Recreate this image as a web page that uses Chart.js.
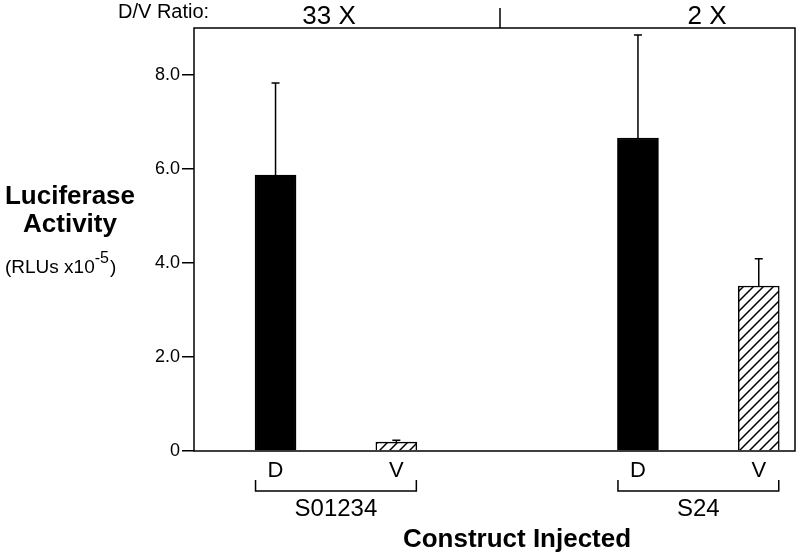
<!DOCTYPE html>
<html>
<head>
<meta charset="utf-8">
<script src="https://cdn.jsdelivr.net/npm/chart.js@4/dist/chart.umd.min.js"></script>
<style>
  html, body { margin: 0; background: #fff; }
  #wrap { width: 800px; height: 558px; }
</style>
</head>
<body>
<div id="wrap"><canvas id="luc"></canvas></div>
<script>
// data
var barLabels = ['D', 'V', 'D', 'V'];
var barPos = [1, 2, 4, 5];
var means = [5.87, 0.19, 6.66, 3.51];
var errUp = [1.96, 0.04, 2.19, 0.58];
var constructs = ['S01234', 'S24'];
var ratios = ['33 X', '2 X'];
var yTicks = [0, 2, 4, 6, 8];

var FONT = '"Liberation Sans", Arial, Helvetica, sans-serif';

// diagonal hatch for the V bars
function hatch() {
  var s = 10;
  var c = document.createElement('canvas');
  c.width = s; c.height = s;
  var g = c.getContext('2d');
  g.fillStyle = '#fff';
  g.fillRect(0, 0, s, s);
  g.strokeStyle = '#000';
  g.lineWidth = 1.5;
  g.beginPath();
  g.moveTo(0, s); g.lineTo(s, 0);
  g.moveTo(-2, 2); g.lineTo(2, -2);
  g.moveTo(s - 2, s + 2); g.lineTo(s + 2, s - 2);
  g.stroke();
  return g.createPattern(c, 'repeat');
}
var hp = hatch();

var extras = {
  id: 'extras',
  afterDraw: function (chart) {
    var ctx = chart.ctx;
    var a = chart.chartArea;
    var xs = chart.scales.x, ys = chart.scales.y;
    ctx.save();
    ctx.strokeStyle = '#000';
    ctx.fillStyle = '#000';
    ctx.lineWidth = 1.5;

    // frame
    ctx.strokeRect(a.left, a.top, a.right - a.left, a.bottom - a.top);

    // error bars (upper only)
    for (var i = 0; i < means.length; i++) {
      var x = xs.getPixelForValue(barPos[i]);
      var y0 = ys.getPixelForValue(means[i]);
      var y1 = ys.getPixelForValue(means[i] + errUp[i]);
      ctx.beginPath();
      ctx.moveTo(x, y0); ctx.lineTo(x, y1);
      ctx.moveTo(x - 4, y1); ctx.lineTo(x + 4, y1);
      ctx.stroke();
    }

    // brackets with construct names
    ctx.textAlign = 'center';
    ctx.textBaseline = 'middle';
    ctx.font = '24px ' + FONT;
    for (var k = 0; k < constructs.length; k++) {
      var l = xs.getPixelForValue(barPos[k * 2]) - 20;
      var r = xs.getPixelForValue(barPos[k * 2 + 1]) + 20;
      ctx.beginPath();
      ctx.moveTo(l, 480); ctx.lineTo(l, 491); ctx.lineTo(r, 491); ctx.lineTo(r, 480);
      ctx.stroke();
      ctx.fillText(constructs[k], (l + r) / 2, 509);
    }

    // x title
    ctx.font = 'bold 26px ' + FONT;
    ctx.fillText('Construct Injected', 517, 540);

    // y title
    ctx.fillText('Luciferase', 70, 197);
    ctx.fillText('Activity', 70, 225);
    ctx.textAlign = 'left';
    ctx.font = '19px ' + FONT;
    var t1 = '(RLUs x10';
    var w1 = ctx.measureText(t1).width;
    ctx.fillText(t1, 5, 268);
    ctx.font = '16px ' + FONT;
    var w2 = ctx.measureText('-5').width;
    ctx.fillText('-5', 5 + w1, 259);
    ctx.font = '19px ' + FONT;
    ctx.fillText(')', 5 + w1 + w2 + 1, 268);

    // D/V ratio header
    ctx.font = '20px ' + FONT;
    ctx.fillText('D/V Ratio:', 118, 12);
    ctx.textAlign = 'center';
    ctx.font = '26px ' + FONT;
    ctx.fillText(ratios[0], 329, 17);
    ctx.fillText(ratios[1], 707, 17);
    ctx.beginPath();
    ctx.moveTo(500, 8); ctx.lineTo(500, a.top);
    ctx.stroke();
    ctx.restore();
  }
};

new Chart(document.getElementById('luc'), {
  type: 'bar',
  data: {
    datasets: [{
      data: barPos.map(function (x, i) { return { x: x, y: means[i] }; }),
      backgroundColor: ['#000', hp, '#000', hp],
      borderColor: '#000',
      borderWidth: 1.5,
      barThickness: 41
    }]
  },
  options: {
    responsive: true,
    maintainAspectRatio: false,
    animation: false,
    layout: { padding: { top: 28, right: 5, left: 0, bottom: 0 } },
    plugins: { legend: { display: false }, tooltip: { enabled: false } },
    scales: {
      x: {
        type: 'linear',
        offset: false,
        min: 0.325,
        max: 5.3,
        grid: { display: false, drawTicks: false },
        border: { display: false },
        afterBuildTicks: function (axis) {
          axis.ticks = barPos.map(function (v) { return { value: v }; });
        },
        afterFit: function (scale) { scale.height = 107; },
        ticks: {
          color: '#000',
          font: { family: FONT, size: 22 },
          padding: 7,
          maxRotation: 0,
          callback: function (v) { return barLabels[barPos.indexOf(v)]; }
        }
      },
      y: {
        min: 0,
        max: 9,
        grid: { drawOnChartArea: false, drawTicks: true, tickLength: 12, color: '#000', lineWidth: 1.5 },
        border: { display: false },
        afterBuildTicks: function (axis) {
          axis.ticks = yTicks.map(function (v) { return { value: v }; });
        },
        afterFit: function (scale) { scale.width = 194; },
        ticks: {
          color: '#000',
          font: { family: FONT, size: 18 },
          padding: 2,
          callback: function (v) { return v === 0 ? '0' : v.toFixed(1); }
        }
      }
    }
  },
  plugins: [extras]
});
</script>
</body>
</html>
